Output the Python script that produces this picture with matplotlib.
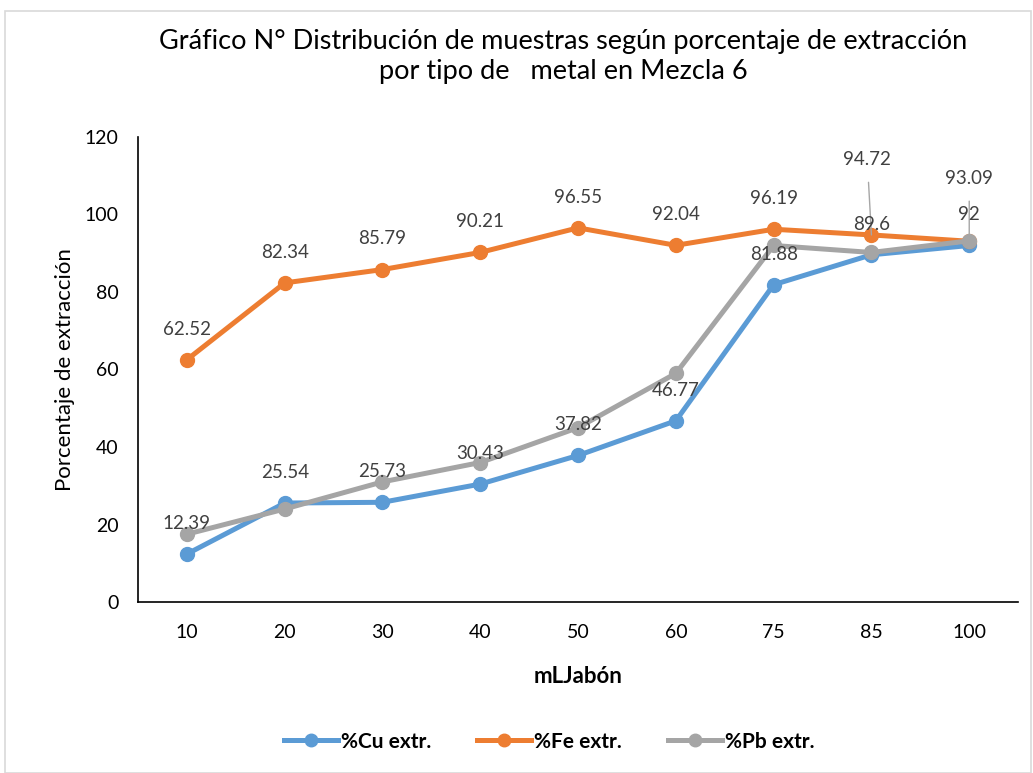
import matplotlib.pyplot as plt
from matplotlib.patches import Rectangle

plt.rcParams['font.family'] = ['Lato', 'DejaVu Sans']

categorias = ['10', '20', '30', '40', '50', '60', '75', '85', '100']
cu = [12.39, 25.54, 25.73, 30.43, 37.82, 46.77, 81.88, 89.6, 92]
fe = [62.52, 82.34, 85.79, 90.21, 96.55, 92.04, 96.19, 94.72, 93.09]
pb = [17.5, 24.0, 31.0, 36.0, 45.0, 59.0, 92.0, 90.2, 93.2]

col_cu = '#5B9BD5'
col_fe = '#ED7D31'
col_pb = '#A5A5A5'
col_txt = '#404040'

fig = plt.figure(figsize=(10.33, 7.73), dpi=100)
ax = fig.add_axes([0.1336, 0.2212, 0.852, 0.6016])

# borde del grafico
fig.patches.append(Rectangle((0.005, 0.0), 0.993, 0.986, transform=fig.transFigure,
                             fill=False, edgecolor='#D9D9D9', linewidth=1.2))

x = list(range(len(categorias)))
ax.plot(x, cu, color=col_cu, lw=3.6, marker='o', ms=10, label='%Cu extr.', zorder=3)
ax.plot(x, fe, color=col_fe, lw=3.6, marker='o', ms=10, label='%Fe extr.', zorder=3)
ax.plot(x, pb, color=col_pb, lw=3.6, marker='o', ms=10, label='%Pb extr.', zorder=4)

# etiquetas Fe (encima)
for i in range(len(x)):
    if i in (7, 8):
        continue
    ax.annotate('%g' % fe[i], (x[i], fe[i]), xytext=(0, 22), textcoords='offset points',
                ha='center', va='center', fontsize=13.5, color=col_txt)
# etiquetas con linea guia
ax.annotate('%g' % fe[7], (x[7], fe[7]), xytext=(-3, 54), textcoords='offset points',
            ha='center', va='center', fontsize=13.5, color=col_txt,
            arrowprops=dict(arrowstyle='-', color='#A6A6A6', lw=1, shrinkA=8, shrinkB=0))
ax.annotate('%g' % fe[8], (x[8], fe[8]), xytext=(0, 45), textcoords='offset points',
            ha='center', va='center', fontsize=13.5, color=col_txt,
            arrowprops=dict(arrowstyle='-', color='#A6A6A6', lw=1, shrinkA=8, shrinkB=0))

# etiquetas Cu (encima)
for i in range(len(x)):
    ax.annotate('%g' % cu[i], (x[i], cu[i]), xytext=(0, 22), textcoords='offset points',
                ha='center', va='center', fontsize=13.5, color=col_txt, zorder=5)

ax.set_xlim(-0.5, len(x) - 0.5)
ax.set_ylim(0, 120)
ax.set_yticks(range(0, 121, 20))
ax.set_xticks(x)
ax.set_xticklabels(categorias)
ax.tick_params(axis='both', labelsize=14, length=0)
ax.tick_params(axis='x', pad=16)
ax.tick_params(axis='y', pad=14)
for s in ('top', 'right'):
    ax.spines[s].set_visible(False)
ax.spines['left'].set_linewidth(1.2)
ax.spines['bottom'].set_linewidth(1.2)

ax.set_ylabel('Porcentaje de extracción', fontsize=16, labelpad=7)
ax.set_xlabel('mLJabón', fontsize=16, fontweight='bold', labelpad=18)

fig.text(0.545, 0.927, 'Gráfico N° Distribución de muestras según porcentaje de extracción\n'
         'por tipo de   metal en Mezcla 6', ha='center', va='center', fontsize=19.5,
         linespacing=1.25)

ax.legend(loc='center', bbox_to_anchor=(0.467, -0.30), ncol=3, frameon=False,
          prop={'weight': 'bold', 'size': 15}, handlelength=2.6, columnspacing=2.2,
          handletextpad=0.15, markerscale=0.9)

fig.savefig('out.png', dpi=100)
